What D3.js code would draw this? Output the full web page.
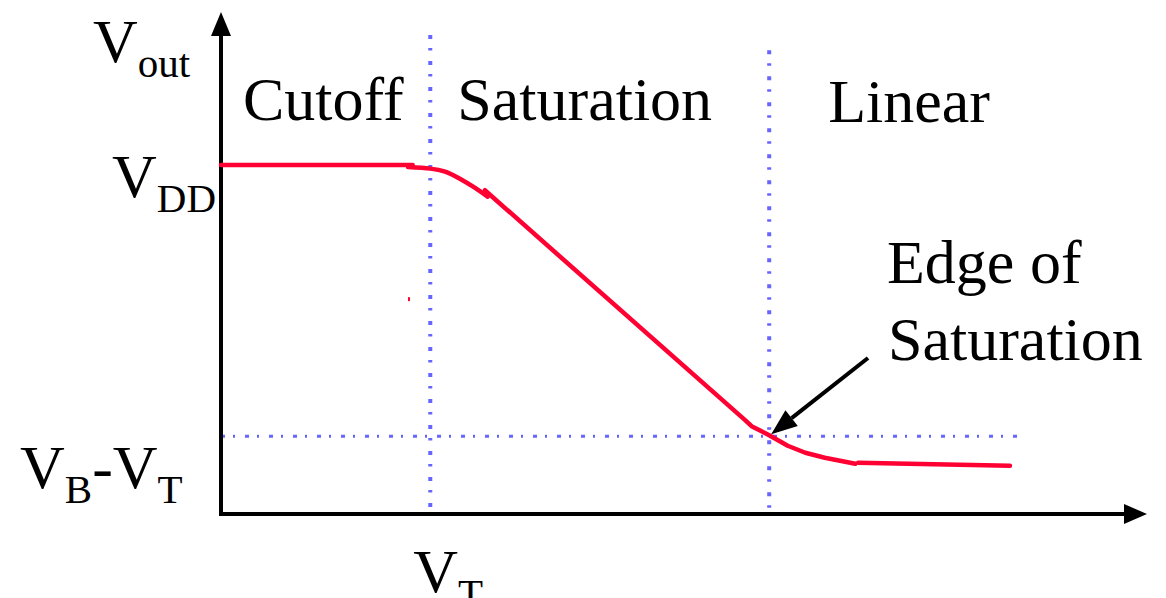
<!DOCTYPE html>
<html>
<head>
<meta charset="utf-8">
<script src="https://cdn.jsdelivr.net/npm/d3@7"></script>
<style>
  body { margin: 0; background: #fff; }
  text { font-family: "Liberation Serif", "Times New Roman", serif; fill: #000; }
  .curve { fill: none; stroke: #ff0033; stroke-width: 4.5; stroke-linecap: round; stroke-linejoin: round; }
  .guide { stroke: #6666ff; fill: none; }
  .axis-line { stroke: #000; stroke-width: 4; }
</style>
</head>
<body>
<script>
var w = 1166;
var h = 598;

// transfer curve, drawn as the separate strokes of the original sketch (Vin, Vout in 0..100 units)
const cutoffPart = [[0, 69.5], [20.7, 69.5]];
const kneePart = [[20.2, 69.1], [22.6, 68.8], [24.2, 68.2], [25.8, 66.8], [27.4, 65.0], [28.8, 63.2]];
const saturationPart = [[28.5, 64.5], [56.6, 18.7], [57.3, 17.5], [59.2, 15.7], [61.2, 13.6], [63.1, 12.2], [65.2, 11.2], [67.4, 10.4], [68.5, 10.0]];
const linearPart = [[68.8, 10.2], [85.2, 9.6]];
const strayDot = [20.3, 42.8];

// guide levels
const vT = 22.6;          // threshold voltage on the x axis
const vEdge = 59.2;       // edge of saturation
const vDD = 69.5;
const vBminusVT = 15.5;
const guideTops = [95.4, 92.4];
const guideEnd = 86.1;

const regionLabels = ["Cutoff", "Saturation", "Linear"];
const edgeLabel = ["Edge of", "Saturation"];

//scales: axes run from the origin to the arrow tips
const xScale = d3.scaleLinear().domain([0, 100]).range([221, 1147]);
const yScale = d3.scaleLinear().domain([0, 100]).range([514, 12]);

var svg = d3.select("body")
            .append("svg")
            .attr("width", w)
            .attr("height", h);

// dotted guide lines
svg.append("line")
    .attr("class", "guide")
    .attr("x1", xScale(vT)).attr("x2", xScale(vT))
    .attr("y1", yScale(guideTops[0])).attr("y2", yScale(0))
    .attr("stroke-width", 4)
    .attr("stroke-dasharray", "4,9,2.5,10.5");

svg.append("line")
    .attr("class", "guide")
    .attr("x1", xScale(vEdge)).attr("x2", xScale(vEdge))
    .attr("y1", yScale(guideTops[1])).attr("y2", yScale(0))
    .attr("stroke-width", 4)
    .attr("stroke-dasharray", "4,9,2.5,10.5");

svg.append("line")
    .attr("class", "guide")
    .attr("x1", xScale(0)).attr("x2", xScale(guideEnd))
    .attr("y1", yScale(vBminusVT)).attr("y2", yScale(vBminusVT))
    .attr("stroke-width", 3)
    .attr("stroke-dasharray", "4,8,2,10");

// axes with arrow heads
svg.append("line")
    .attr("class", "axis-line")
    .attr("x1", xScale(0)).attr("y1", yScale(0) + 2)
    .attr("x2", xScale(0)).attr("y2", yScale(100) + 20);

svg.append("line")
    .attr("class", "axis-line")
    .attr("x1", xScale(0) - 2).attr("y1", yScale(0))
    .attr("x2", xScale(100) - 20).attr("y2", yScale(0));

svg.append("path")
    .attr("d", `M${xScale(0)},${yScale(100)} L${xScale(0) + 10},${yScale(100) + 24} L${xScale(0) - 10},${yScale(100) + 24} Z`)
    .attr("fill", "#000");

svg.append("path")
    .attr("d", `M${xScale(100)},${yScale(0)} L${xScale(100) - 23},${yScale(0) + 10} L${xScale(100) - 23},${yScale(0) - 10} Z`)
    .attr("fill", "#000");

// curve pieces
const line = d3.line()
            .x(d => xScale(d[0]))
            .y(d => yScale(d[1]));

const smoothLine = d3.line()
            .curve(d3.curveNatural)
            .x(d => xScale(d[0]))
            .y(d => yScale(d[1]));

svg.append("path").datum(cutoffPart).attr("class", "curve").attr("d", line);
svg.append("path").datum(kneePart).attr("class", "curve").attr("d", smoothLine);
svg.append("path").datum(saturationPart).attr("class", "curve").attr("d", line);
svg.append("path").datum(linearPart).attr("class", "curve").attr("d", line);

svg.append("rect")
    .attr("x", xScale(strayDot[0]) - 1)
    .attr("y", yScale(strayDot[1]) - 2)
    .attr("width", 2)
    .attr("height", 4)
    .attr("fill", "#ff0033");

// region labels above the curve
const regionX = [xScale(0) + 22, xScale(vT) + 27, xScale(vEdge) + 59];
const regionY = [120, 120, 122];
svg.selectAll(".region")
    .data(regionLabels)
    .enter()
    .append("text")
    .attr("class", "region")
    .attr("x", (d, i) => regionX[i])
    .attr("y", (d, i) => regionY[i])
    .attr("font-size", 62)
    .text(d => d);

// axis labels with subscripts
function subLabel(x, y, parts) {
    const t = svg.append("text").attr("x", x).attr("y", y).attr("font-size", 62);
    let down = false;
    parts.forEach(p => {
        const isSub = p.sub === true;
        const dy = isSub && !down ? 15 : (!isSub && down ? -15 : 0);
        down = isSub;
        t.append("tspan")
            .attr("dy", dy)
            .attr("font-size", isSub ? 41 : 62)
            .text(p.t);
    });
}

subLabel(93, 62, [{t: "V"}, {t: "out", sub: true}]);
subLabel(112, yScale(vDD) + 32, [{t: "V"}, {t: "DD", sub: true}]);
subLabel(20, yScale(vBminusVT) + 52, [{t: "V"}, {t: "B", sub: true}, {t: "-V"}, {t: "T", sub: true}]);
subLabel(xScale(vT) - 17, 592, [{t: "V"}, {t: "T", sub: true}]);

// edge of saturation callout
svg.selectAll(".edge")
    .data(edgeLabel)
    .enter()
    .append("text")
    .attr("class", "edge")
    .attr("x", (d, i) => 887 + i)
    .attr("y", (d, i) => 283 + i * 77)
    .attr("font-size", 62)
    .text(d => d);

const tipX = xScale(vEdge) + 2;
const tipY = yScale(vBminusVT) - 2;
const tailX = 868, tailY = 358;
const ang = Math.atan2(tailY - tipY, tailX - tipX);
const headLen = 26, headHalf = 10;
const bx = tipX + headLen * Math.cos(ang), by = tipY + headLen * Math.sin(ang);

svg.append("line")
    .attr("x1", tailX).attr("y1", tailY)
    .attr("x2", bx).attr("y2", by)
    .attr("stroke", "#000")
    .attr("stroke-width", 4);

svg.append("path")
    .attr("d", `M${tipX},${tipY} L${bx - headHalf * Math.sin(ang)},${by + headHalf * Math.cos(ang)} L${bx + headHalf * Math.sin(ang)},${by - headHalf * Math.cos(ang)} Z`)
    .attr("fill", "#000");
</script>
</body>
</html>
